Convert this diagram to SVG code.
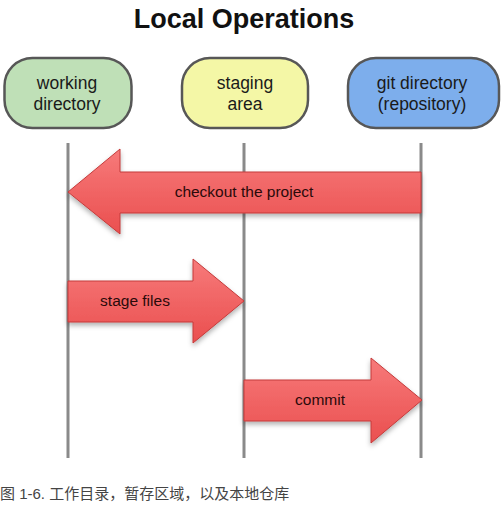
<svg xmlns="http://www.w3.org/2000/svg" width="504" height="508" viewBox="0 0 504 508">
<style>
.title{font-family:"Liberation Sans",Arial,sans-serif;font-weight:bold;font-size:27px;fill:#111;text-anchor:middle}
.nt{font-family:"Liberation Sans",Arial,sans-serif;font-size:17.5px;fill:#1a1a1a;text-anchor:middle}
.node{stroke:#575757;stroke-width:2.5}
.life{stroke:#8a8a8a;stroke-width:3;fill:none}
.arrow{fill:url(#red);stroke:#c43a3a;stroke-width:1;filter:url(#sh)}
.at{font-family:"Liberation Sans",Arial,sans-serif;font-size:15.5px;fill:#2a0a0a;text-anchor:middle}
.cap{font-family:"Liberation Sans","Noto Sans CJK SC",sans-serif;font-size:15px;fill:#444}
</style>
<defs>
<linearGradient id="red" x1="0" y1="0" x2="0" y2="1">
<stop offset="0" stop-color="#f77a7a"/>
<stop offset="1" stop-color="#ea4f4f"/>
</linearGradient>
<filter id="sh" x="-10%" y="-20%" width="120%" height="150%">
<feDropShadow dx="0" dy="3" stdDeviation="2.5" flood-color="#000" flood-opacity="0.3"/>
</filter>
</defs>
<rect width="504" height="508" fill="#fff"/>
<text class="title" x="244" y="28">Local Operations</text>
<g id="lifelines">
<line class="life" x1="68" y1="143" x2="68" y2="458"/>
<line class="life" x1="244" y1="143" x2="244" y2="458"/>
<line class="life" x1="421" y1="143" x2="421" y2="458"/>
</g>
<g id="working">
<rect class="node" x="4.5" y="58" width="127" height="70" rx="28" ry="28" fill="#bfe0b7"/>
<text class="nt" x="67" y="89">working</text>
<text class="nt" x="67" y="110">directory</text>
</g>
<g id="staging">
<rect class="node" x="182" y="58" width="126" height="70" rx="28" ry="28" fill="#f4f7a6"/>
<text class="nt" x="245" y="89">staging</text>
<text class="nt" x="245" y="110">area</text>
</g>
<g id="gitdir">
<rect class="node" x="348" y="58" width="151" height="70" rx="28" ry="28" fill="#7daeec"/>
<text class="nt" x="422" y="89">git directory</text>
<text class="nt" x="422" y="110">(repository)</text>
</g>
<g id="connectors">
<g id="checkout">
<path class="arrow" d="M421,172 L120,172 L120,149 L68,192 L120,234 L120,213 L421,213 Z"/>
<text class="at" x="244" y="197">checkout the project</text>
</g>
<g id="stage">
<path class="arrow" d="M68,281 L193,281 L193,259 L244,301 L193,343 L193,322 L68,322 Z"/>
<text class="at" x="135" y="306">stage files</text>
</g>
<g id="commit">
<path class="arrow" d="M244,380 L371,380 L371,358 L422,400 L371,443 L371,421 L244,421 Z"/>
<text class="at" x="320" y="405">commit</text>
</g>
</g>
<text class="cap" x="0" y="499">图 1-6. 工作目录，暂存区域，以及本地仓库</text>
</svg>
